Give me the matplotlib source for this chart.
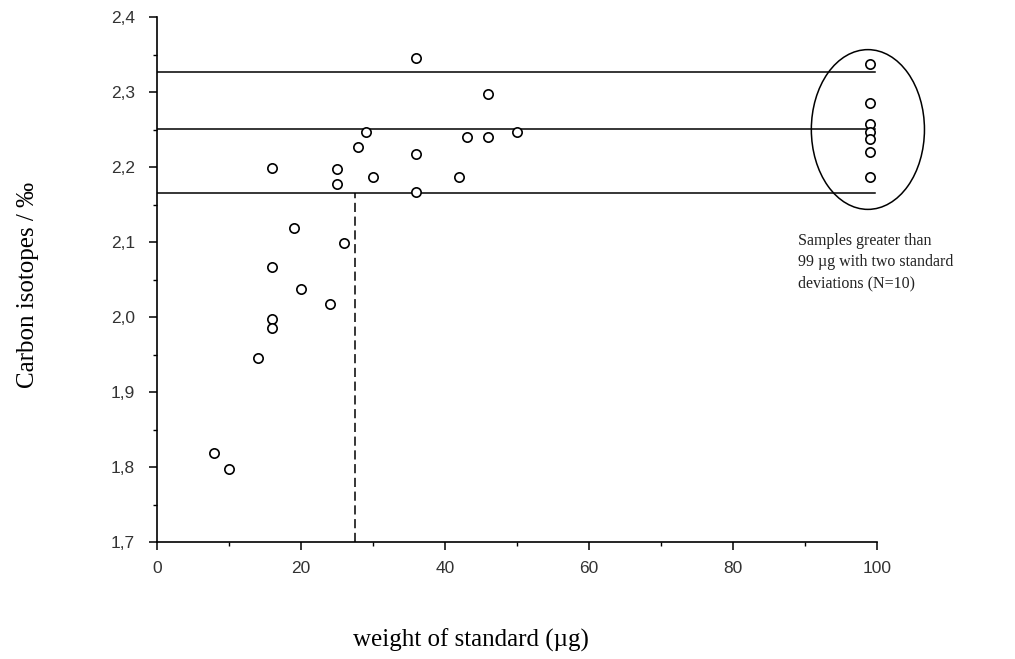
import matplotlib
matplotlib.use("Agg")
import matplotlib.pyplot as plt
from matplotlib.patches import Ellipse
from matplotlib.ticker import MultipleLocator, FuncFormatter

# standards below 99 ug
weight = [8, 10, 14, 16, 16, 16, 16, 19, 20, 24, 25, 25, 26, 28, 29, 30,
          36, 36, 36, 42, 43, 46, 46, 50]
delta = [1.819, 1.798, 1.946, 2.199, 2.067, 1.998, 1.986, 2.119, 2.037, 2.018,
         2.198, 2.178, 2.099, 2.227, 2.247, 2.187, 2.346, 2.218, 2.167, 2.187,
         2.240, 2.298, 2.240, 2.247]

# samples > 99 ug
big_weight = [99, 99, 99, 99, 99, 99, 99]
big_delta = [2.337, 2.286, 2.258, 2.247, 2.237, 2.220, 2.187]

# mean and two standard deviations
mean_line = 2.251
upper_line = 2.327
lower_line = 2.165
cutoff = 27.5

serif = "Liberation Serif"
sans = "Liberation Sans"

fig = plt.figure(figsize=(10.15, 6.59), dpi=100)
ax = fig.add_axes([0.1544, 0.1775, 0.7099, 0.7967])

ax.scatter(weight, delta, s=45, facecolors="white", edgecolors="black",
           linewidths=1.2, zorder=3)
ax.scatter(big_weight, big_delta, s=45, facecolors="white", edgecolors="black",
           linewidths=1.2, zorder=3)

for yv in (upper_line, mean_line, lower_line):
    ax.plot([0, 99.7], [yv, yv], color="black", lw=1.1, zorder=2)

ax.plot([cutoff, cutoff], [1.7, lower_line], color="black", lw=1.1,
        linestyle=(0, (6, 3)), zorder=2)

ell = Ellipse((98.7, 2.25), 15.7, 0.213, fill=False, edgecolor="black",
              lw=1.1, clip_on=False, zorder=2)
ax.add_patch(ell)

ax.set_xlim(0, 100)
ax.set_ylim(1.7, 2.4)
ax.spines["top"].set_visible(False)
ax.spines["right"].set_visible(False)
ax.spines["left"].set_linewidth(1.2)
ax.spines["bottom"].set_linewidth(1.2)

ax.xaxis.set_major_locator(MultipleLocator(20))
ax.xaxis.set_minor_locator(MultipleLocator(10))
ax.yaxis.set_major_locator(MultipleLocator(0.1))
ax.yaxis.set_minor_locator(MultipleLocator(0.05))
ax.yaxis.set_major_formatter(FuncFormatter(lambda v, p: f"{v:.1f}".replace(".", ",")))
ax.tick_params(which="major", length=6, width=1.1, direction="out")
ax.tick_params(which="minor", length=3, width=1.0, direction="out")
ax.tick_params(axis="x", pad=8)
ax.tick_params(axis="y", pad=9.5)
for lab in ax.get_xticklabels() + ax.get_yticklabels():
    lab.set_fontfamily(sans)
    lab.set_fontsize(12.5)
    lab.set_color("#333333")

fig.text(0.464, 0.029, "weight of standard (\u00b5g)", fontfamily=serif,
         fontsize=18, ha="center", va="center")
fig.text(0.028, 0.567, "Carbon isotopes / \u2030", fontfamily=serif,
         fontsize=18, ha="center", va="center", rotation=90)

ax.text(89.0, 2.112, "Samples greater than\n99 \u00b5g with two standard\ndeviations (N=10)",
        fontfamily=serif, fontsize=11.5, ha="left", va="top", linespacing=1.45,
        color="#222222")

fig.savefig("out.png", dpi=100)
